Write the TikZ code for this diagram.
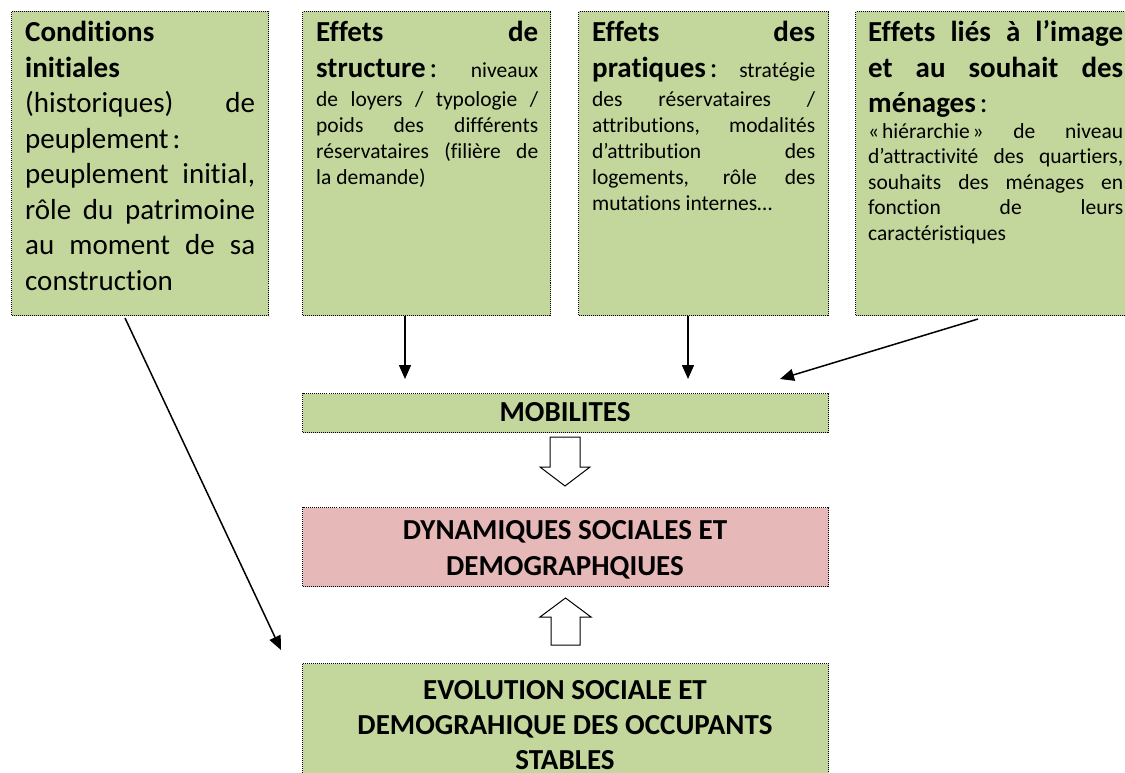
\documentclass[tikz,border=0pt]{standalone}
\usepackage{fontspec}
\setmainfont{Carlito}[RawFeature={-liga;-clig;-dlig;-calt}]
\usetikzlibrary{arrows.meta}
\definecolor{boxgreen}{HTML}{C3D69B}
\definecolor{boxpink}{HTML}{E6B9B8}
\newcommand\bigf{\fontsize{29}{35.5}\selectfont}
\newcommand\smf{\fontsize{21.5}{26}\selectfont}
\newcommand\JL[1]{\makebox[\linewidth][s]{#1}\par}
\newcommand\LL[1]{\makebox[\linewidth][l]{#1}\par}
\newcommand\mycolon{\kern4pt:}
\newenvironment{boxtext}[1]{\begin{minipage}[t]{#1}\setlength\parindent{0pt}\lineskiplimit=-60pt\bigf}{\end{minipage}}
\tikzset{
  gbox/.style={fill=boxgreen, draw=black, line width=1pt, dash pattern=on 1pt off 1pt, inner sep=0pt, anchor=north west},
  pbox/.style={gbox, fill=boxpink},
  txt/.style={inner sep=0pt, anchor=base west},
  ctxt/.style={inner sep=0pt, anchor=base},
  conn/.style={line width=1.5pt, -{Triangle[length=14pt,width=12pt]}},
  blk/.style={draw=black, line width=1pt, fill=white, line join=miter}
}
\begin{document}
\begin{tikzpicture}[x=1pt,y=-1pt]
\useasboundingbox (0,0) rectangle (1125,773);
% top boxes
\node[gbox, minimum width=257pt, minimum height=304pt] (b1) at (11,11) {};
\node[gbox, minimum width=248pt, minimum height=304pt] (b2) at (302,11) {};
\node[gbox, minimum width=250pt, minimum height=304pt] (b3) at (578,11) {};
\node[gbox, minimum width=285pt, minimum height=304pt] (b4) at (855,11) {};
% middle boxes
\node[gbox, minimum width=526pt, minimum height=39pt] (mob) at (302,393) {};
\node[pbox, minimum width=526pt, minimum height=79pt] (dyn) at (302,507) {};
\node[gbox, minimum width=526pt, minimum height=130pt] (evo) at (302,663) {};

% texts
\node[txt] (t1) at (25,42) {\begin{boxtext}{230pt}
\LL{\textbf{Conditions}}
\LL{\textbf{initiales}}
\JL{(historiques) de}
\LL{peuplement\mycolon}
\JL{peuplement initial,}
\JL{rôle du patrimoine}
\JL{au moment de sa}
\LL{construction}
\end{boxtext}};

\node[txt] (t2) at (316,42) {\begin{boxtext}{222pt}
\JL{\textbf{Effets de}}
\JL{\textbf{structure}\mycolon{} {\smf niveaux}}
\smf\vspace{3pt}
\JL{de loyers / typologie /}
\JL{poids des différents}
\JL{réservataires (filière de}
\LL{la demande)}
\end{boxtext}};

\node[txt] (t3) at (592,42) {\begin{boxtext}{223pt}
\JL{\textbf{Effets des}}
\JL{\textbf{pratiques}\mycolon{} {\smf stratégie}}
\smf\vspace{3pt}
\JL{des réservataires /}
\JL{attributions, modalités}
\JL{d’attribution des}
\JL{logements, rôle des}
\LL{mutations internes…}
\end{boxtext}};

\node[txt] (t4) at (868,42) {\begin{boxtext}{255pt}
\JL{\textbf{Effets liés à l’image}}
\JL{\textbf{et au souhait des}}
\LL{\textbf{ménages}\mycolon}
\fontsize{21.5}{25.5}\selectfont
\JL{«\kern3pt hiérarchie\kern3pt» de niveau}
\JL{d’attractivité des quartiers,}
\JL{souhaits des ménages en}
\JL{fonction de leurs}
\LL{caractéristiques}
\end{boxtext}};

\node[ctxt, font=\bigf\bfseries] (tm) at (565,421) {MOBILITES};
\node[ctxt, font=\bigf\bfseries] (td1) at (565,539) {DYNAMIQUES SOCIALES ET};
\node[ctxt, font=\bigf\bfseries] (td2) at (565,575) {DEMOGRAPHQIUES};
\node[ctxt, font=\bigf\bfseries] (te1) at (565,699) {EVOLUTION SOCIALE ET};
\node[ctxt, font=\bigf\bfseries] (te2) at (565,734.5) {DEMOGRAHIQUE DES OCCUPANTS};
\node[ctxt, font=\bigf\bfseries] (te3) at (565,769) {STABLES};

% connectors
\coordinate (s1) at (125,318);
\coordinate (e1) at (281,650);
\draw[conn] (s1) -- (e1);
\draw[conn] (b2.south -| 405,0) -- (405,379) coordinate (e2);
\draw[conn] (b3.south -| 688,0) -- (688,379) coordinate (e3);
\coordinate (s4) at (978,319);
\coordinate (e4) at (780,379);
\draw[conn] (s4) -- (e4);

% block arrows
\draw[blk] (550,437) -- (580,437) -- (580,467) -- (590,467) -- (565,486) -- (540,467) -- (550,467) -- cycle;
\draw[blk] (551,645) -- (580,645) -- (580,617) -- (591,617) -- (565.5,598) -- (540,617) -- (551,617) -- cycle;
\end{tikzpicture}
\end{document}
